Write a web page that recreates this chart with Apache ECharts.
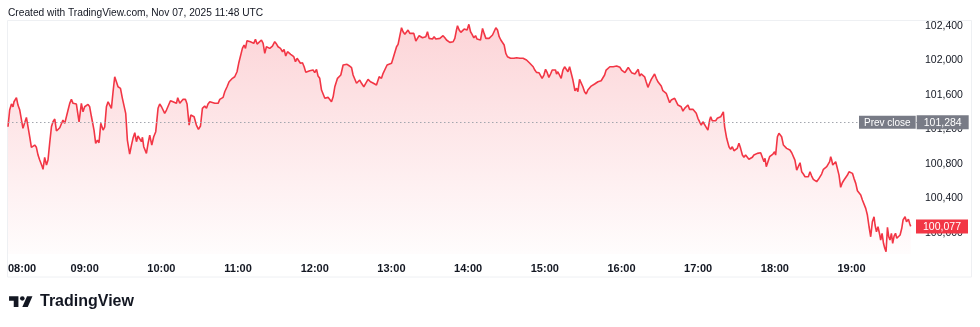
<!DOCTYPE html>
<html>
<head>
<meta charset="utf-8">
<script src="https://cdn.jsdelivr.net/npm/echarts@6/dist/echarts.min.js"></script>
<style>
  html, body { margin: 0; padding: 0; background: #ffffff; }
  #chart { width: 980px; height: 327px; }
</style>
</head>
<body>
<div id="chart"></div>
<script>
// ---- DATA ----
const startHour = 8;                 // x axis origin (08:00)
const prevClose = 101284;
const lastPrice = 100077;
const yTicks = [100000, 100400, 100800, 101200, 101600, 102000, 102400];
const headerText = 'Created with TradingView.com, Nov 07, 2025 11:48 UTC';

// minutes after 08:00
const times = [
  0,1.3,2.7,3.9,4.7,5.8,6.6,7.8,9.2,10.5,
  11.7,13.1,14.4,15.4,17,18.3,19.6,20.9,22.2,23.5,
  24.8,26.6,27.4,28.7,30.1,31.3,32.6,34,35.2,36.6,
  37.9,39.1,40.5,41.8,43,44.4,45.7,47,48.3,49.6,
  50.9,53.5,55.6,57.4,58.7,60,61.4,62.6,63.9,65.3,
  67.3,68.6,70,71.2,72.6,74.4,75.7,77,78.3,79.6,
  80.9,82.2,83.5,84.8,86.1,88,89.5,90.8,92.1,93.4,
  95.2,96.6,97.8,99.2,100.5,101.7,103.1,104.4,105.2,106.2,
  107.5,108.3,109.6,110.9,112.5,114,115.6,117.4,118.7,
  120.1,121.3,122.6,124,125.2,127.1,129.1,130.5,131.8,132.8,
  134.4,135.7,137,138.8,140.1,141.7,143,144.3,145.6,147.4,
  149,150.6,152.1,153.9,155.3,156.5,157.9,159.2,161.8,163.1,
  164.4,165.7,167,168.3,169.6,171.4,173,174.3,175.6,177.4,
  179.2,180.5,181.9,183.4,184.7,185.8,187,188.4,189.7,191,
  192.3,193.6,194.9,196.4,198.3,199.6,200.9,202.2,203.5,204.8,
  206.9,208.7,210.1,211.3,213.2,214.8,216,217.3,218.7,219.9,
  221.2,222.6,223.6,224.9,226.2,227.5,228.8,230.4,231.7,233,
  234.3,236.1,237.4,238.7,240,241.4,242.6,243.9,245.3,246.5,
  247.9,249.2,250.4,251.8,253.1,254.4,255.7,257,257.8,259,
  260.4,262.2,263.5,265.3,266.9,268.8,270,271.3,272.7,273.9,
  275.2,276.6,278.4,279.9,281.7,283.6,285.2,286.4,288.3,290.4,
  292.2,293.5,294.8,296.6,297.9,300.1,301.3,302.6,304,305.2,
  306.6,307.9,309.1,310.5,311.8,313,314.4,315.7,317.5,319.1,
  320.4,321.7,323,324.3,325.6,326.9,328.2,329.5,330.8,332.1,
  333.4,334.7,336.1,337.9,339.2,340.4,341.8,343.1,344.4,345.7,
  347,348.3,349.6,350.9,351.7,353,354.3,355.6,356.9,358.2,
  359.2,360.6,361.9,363.1,364.5,365.8,367,368.4,369.7,371.3,
  372.5,373.9,375.2,376.4,377.8,379.1,380.3,381.7,383,384.3,
  385.6,386.9,388.2,389.5,390.8,391.9,393.2,394.4,395.8,397.9,
  400.5,403,405.7,407,408.3,409.6,410.9,412.2,413.5,
  415.4,416.7,417.9,419.3,420.6,421.9,423.2,424.5,425.8,427.1,
  428.4,429.2,430.2,431.6,432.8,434.2,435.5,436.7,438.1,439.4,
  440.7,442,443.6,444.9,445.9,447.2,448.5,449.8,451.1,452.4,
  453.7,455.1,456.3,457.6,459,460.2,461.6,462.9,464.1,465.5,
  466.8,468,469.4,470.9,472.3,473.5,474.9,476.2,477.4,478.8,
  480.1,481.3,482.7,484,485.3,486.6,487.9,489.2,490.5,491.8,
  493.1,494.2,495.4,496.8,498.1,499.3,500.7,502,503.3,504.6,
  505.9,507.2,508.5,509.8,511.1,512.4,513.7,515,516.3,517.7,
  518.9,520.2,521.6,522.8,524.2,525.5,526.7,528.1,529.4,530.7,
  532,533.3,534.6,535.9,537.2,538.5,539.8,541.1,542.4,543.7,
  545.1,546.3,547.6,549,549.8,551,552.3,553.7,554.9,556.2,
  557.6,
  559.7,560.7,562.3,564.1,565.4,566.7,568,569.3,570.6,571.9,
  573.2,574.6,575.8,577.1,578.5,579.7,581.1,582.4,583.6,585,
  586.3,587.6,588.9,590.2,591.5,592.3,593.3,594.6,595.9,597.3,
  598.5,599.8,600.6,602,603.2,604,605.3,606.7,607.9,609.2,
  610.6,611.8,613.2,614.5,615.7,617.1,618.4,619.7,621,622.3,
  623.6,624.9,626.2,627.5,628.8,630.1,631.4,632.7,634.1,635.3,
  636.6,638,639.2,640.6,641.9,642.9,643.7,644.5,645.3,646.3,
  647.6,648.9,650.2,651.5,652.8,654.1,655.4,656.8,658,659.3,
  660.7,661.9,663.3,664.6,665.8,667.2,668.5,669.8,671.1,672.4,
  673.7,675,676.3,677.6,678.4,679.5,680.7,682.1,682.8,683.9,
  685,686,687,688.1,689.1,690.1,691.2,692.2,693.3,694.4,
  695.4,696.7,698,699.3,700.3,701.1,701.9,703,703.8,704.5,
  705.6,706.3
];

const prices = [
  101232,101426,101496,101464,101522,101519,101569,101484,101426,101438,
  101214,101232,101341,101348,101116,100994,101009,101020,100994,100904,
  100846,100777,100739,100878,100788,100846,101040,101232,101290,101322,
  101183,101202,101221,101232,101310,101272,101290,101426,101504,101550,
  101504,101496,101290,101504,101406,101464,101446,101492,101464,101348,
  101194,101040,101078,101047,101272,101194,101232,101464,101522,101504,
  101446,101638,101812,101754,101696,101678,101562,101542,101388,101078,
  100916,101020,101098,101163,101059,101125,101110,101059,101110,101001,
  100982,100924,101040,101136,101020,101116,101175,101446,101496,
  101464,101446,101388,101426,101418,101534,101522,101542,101504,101569,
  101504,101484,101550,101550,101496,101252,101368,101380,101348,101252,
  101202,101241,101446,101472,101446,101496,101522,101504,101504,101522,
  101504,101550,101542,101573,101638,101696,101754,101743,101794,101812,
  101870,101968,101974,102141,102180,102141,102230,102246,102218,102230,
  102199,102246,102191,102180,102238,102199,102083,102160,102153,102141,
  102168,102218,102191,102160,102141,102102,102130,102052,102102,102083,
  102072,102083,102044,101986,102026,102006,101968,101974,101928,101863,
  101859,101882,101870,101890,101859,101898,101820,101794,101658,101638,
  101562,101542,101573,101562,101522,101580,101696,101716,101794,101774,
  101832,101948,101940,101956,101940,101917,101832,101812,101736,101754,
  101774,101736,101696,101736,101782,101754,101743,101754,101716,101812,
  101794,101852,101870,101948,101956,101968,102026,102044,102160,102188,
  102288,102380,102334,102304,102315,102354,102315,102322,102315,102226,
  102249,102288,102304,102264,102257,102276,102334,102257,102276,102249,
  102276,102249,102257,102257,102276,102288,102264,102238,102218,102211,
  102226,102218,102257,102354,102403,102354,102327,102342,102365,102373,
  102354,102420,102334,102304,102264,102288,102249,102238,102238,102373,
  102315,102257,102249,102257,102276,102296,102315,102380,102354,102276,
  102238,102226,102180,102083,102044,102064,102026,102044,102026,102033,
  102026,102026,102006,101986,101968,101968,101928,101890,101863,
  101859,101844,101794,101832,101898,101859,101805,101844,101890,101882,
  101890,101844,101870,101852,101794,101890,101928,101936,101870,101928,
  101936,101774,101650,101678,101638,101782,101794,101696,101638,101612,
  101658,101666,101704,101696,101728,101743,101754,101754,101766,101774,
  101832,101890,101910,101928,101936,101928,101928,101936,101948,101921,
  101890,101870,101859,101890,101921,101898,101859,101870,101844,101859,
  101898,101820,101844,101859,101812,101754,101689,101736,101782,101774,
  101844,101794,101754,101736,101704,101650,101627,101620,101600,101511,
  101542,101522,101562,101542,101484,101492,101464,101414,101446,101464,
  101484,101434,101426,101434,101418,101388,101330,101310,101252,101290,
  101272,101226,101194,101310,101348,101302,101310,101302,101330,101348,
  101348,
  101406,101232,101098,101001,100970,101001,100954,100962,100982,101040,
  100982,100904,100878,100904,100924,100855,100846,100878,100904,100916,
  100924,100916,100931,100931,100827,100866,100769,100827,100885,100904,
  100916,100943,100904,101116,101156,101171,101116,101020,101020,100982,
  101001,100962,100931,100943,100846,100730,100711,100815,100711,100684,
  100653,100672,100653,100711,100661,100623,100634,100595,100623,100646,
  100684,100739,100750,100769,100777,100827,100885,100846,100788,100769,
  100827,100750,100672,100530,100583,100615,100623,100672,100711,100722,
  100692,100634,100576,100490,100499,100441,100383,100363,100286,100209,
  100073,99957,100131,100189,100093,100015,100073,99977,99919,99997,
  99881,99823,99783,100066,99957,99919,99997,99881,99965,99997,
  99939,99957,99977,100055,100151,100131,100189,100131,100131,100159,
  100104,100077
];

// ---- CHART ----
const FONT = '"Liberation Sans", Arial, Helvetica, sans-serif';
const fmt = v => v.toLocaleString('en-US');
const pad = n => (n < 10 ? '0' : '') + n;
const seriesData = times.map((t, i) => [t, prices[i]]);

const chart = echarts.init(document.getElementById('chart'), null, { renderer: 'canvas' });

chart.setOption({
  animation: false,
  backgroundColor: '#ffffff',
  textStyle: { fontFamily: FONT },
  title: {
    text: headerText,
    left: 8,
    top: 8,
    padding: 0,
    textStyle: { fontSize: 10.2, fontWeight: 'normal', color: '#131722', fontFamily: FONT }
  },
  grid: { left: 8, right: 62, top: 20, bottom: 73, containLabel: false },
  xAxis: {
    type: 'value',
    min: 0,
    max: 712,
    interval: 60,
    axisLine: { show: false },
    axisTick: { show: false },
    splitLine: { show: false },
    axisLabel: {
      margin: 9,
      fontSize: 11,
      fontWeight: 'bold',
      color: '#131722',
      fontFamily: FONT,
      showMaxLabel: false,
      alignMinLabel: 'left',
      formatter: v => pad(startHour + Math.round(v / 60)) + ':00'
    }
  },
  yAxis: {
    type: 'value',
    position: 'right',
    min: 99757,
    max: 102470,
    axisLine: { show: false },
    axisTick: { show: false },
    splitLine: { show: false },
    axisLabel: {
      customValues: yTicks,
      margin: 7,
      fontSize: 10.5,
      color: '#131722',
      fontFamily: FONT,
      formatter: v => fmt(v)
    }
  },
  series: [{
    type: 'line',
    data: seriesData,
    showSymbol: false,
    symbol: 'none',
    sampling: 'none',
    lineStyle: { color: '#f23645', width: 1.6 },
    areaStyle: {
      origin: 'start',
      color: {
        type: 'linear', x: 0, y: 0, x2: 0, y2: 1,
        colorStops: [
          { offset: 0, color: 'rgba(242,54,69,0.30)' },
          { offset: 1, color: 'rgba(242,54,69,0.02)' }
        ]
      }
    },
    markLine: {
      silent: true,
      symbol: ['none', 'none'],
      animation: false,
      data: [
        {
          yAxis: prevClose,
          lineStyle: { type: [1.5, 2.5], color: '#a3a6ae', width: 1 },
          label: {
            show: true,
            position: 'end',
            distance: -59,
            formatter: () => '{a|Prev close}{g|}{b|' + fmt(prevClose) + '}',
            rich: {
              a: { backgroundColor: '#787b86', color: '#ffffff', fontSize: 10, lineHeight: 11, padding: [2, 5, 1, 5], fontFamily: FONT },
              g: { width: 1 },
              b: { backgroundColor: '#787b86', color: '#ffffff', fontSize: 10.5, lineHeight: 11, width: 40, align: 'center', padding: [2, 6, 1, 6], fontFamily: FONT }
            }
          }
        },
        {
          yAxis: lastPrice,
          lineStyle: { color: 'rgba(0,0,0,0)', width: 0 },
          label: {
            show: true,
            position: 'end',
            distance: -2,
            formatter: () => '{b|' + fmt(lastPrice) + '}',
            rich: {
              b: { backgroundColor: '#f23645', color: '#ffffff', fontSize: 10.5, lineHeight: 11, width: 40, align: 'center', padding: [2, 6, 1, 6], fontFamily: FONT }
            }
          }
        }
      ]
    }
  }],
  graphic: [
    {
      type: 'rect',
      silent: true,
      z: -1,
      shape: { x: 7.5, y: 20.5, width: 964, height: 256.5 },
      style: { fill: 'none', stroke: '#eef0f3', lineWidth: 1 }
    },
    {
      type: 'group',
      silent: true,
      x: 7.5,
      y: 292,
      scaleX: 0.78,
      scaleY: 0.72,
      children: [
        { type: 'polygon', shape: { points: [[2, 6], [14, 6], [14, 21], [8, 21], [8, 12], [2, 12]] }, style: { fill: '#131722' } },
        { type: 'circle', shape: { cx: 19, cy: 9, r: 3 }, style: { fill: '#131722' } },
        { type: 'polygon', shape: { points: [[19, 21], [25, 6], [32, 6], [26, 21]] }, style: { fill: '#131722' } }
      ]
    },
    {
      type: 'text',
      silent: true,
      x: 40,
      y: 293.5,
      style: {
        text: 'TradingView',
        fontSize: 16,
        fontWeight: 'bold',
        fontFamily: FONT,
        fill: '#131722',
        verticalAlign: 'top'
      }
    }
  ]
});
</script>
</body>
</html>
